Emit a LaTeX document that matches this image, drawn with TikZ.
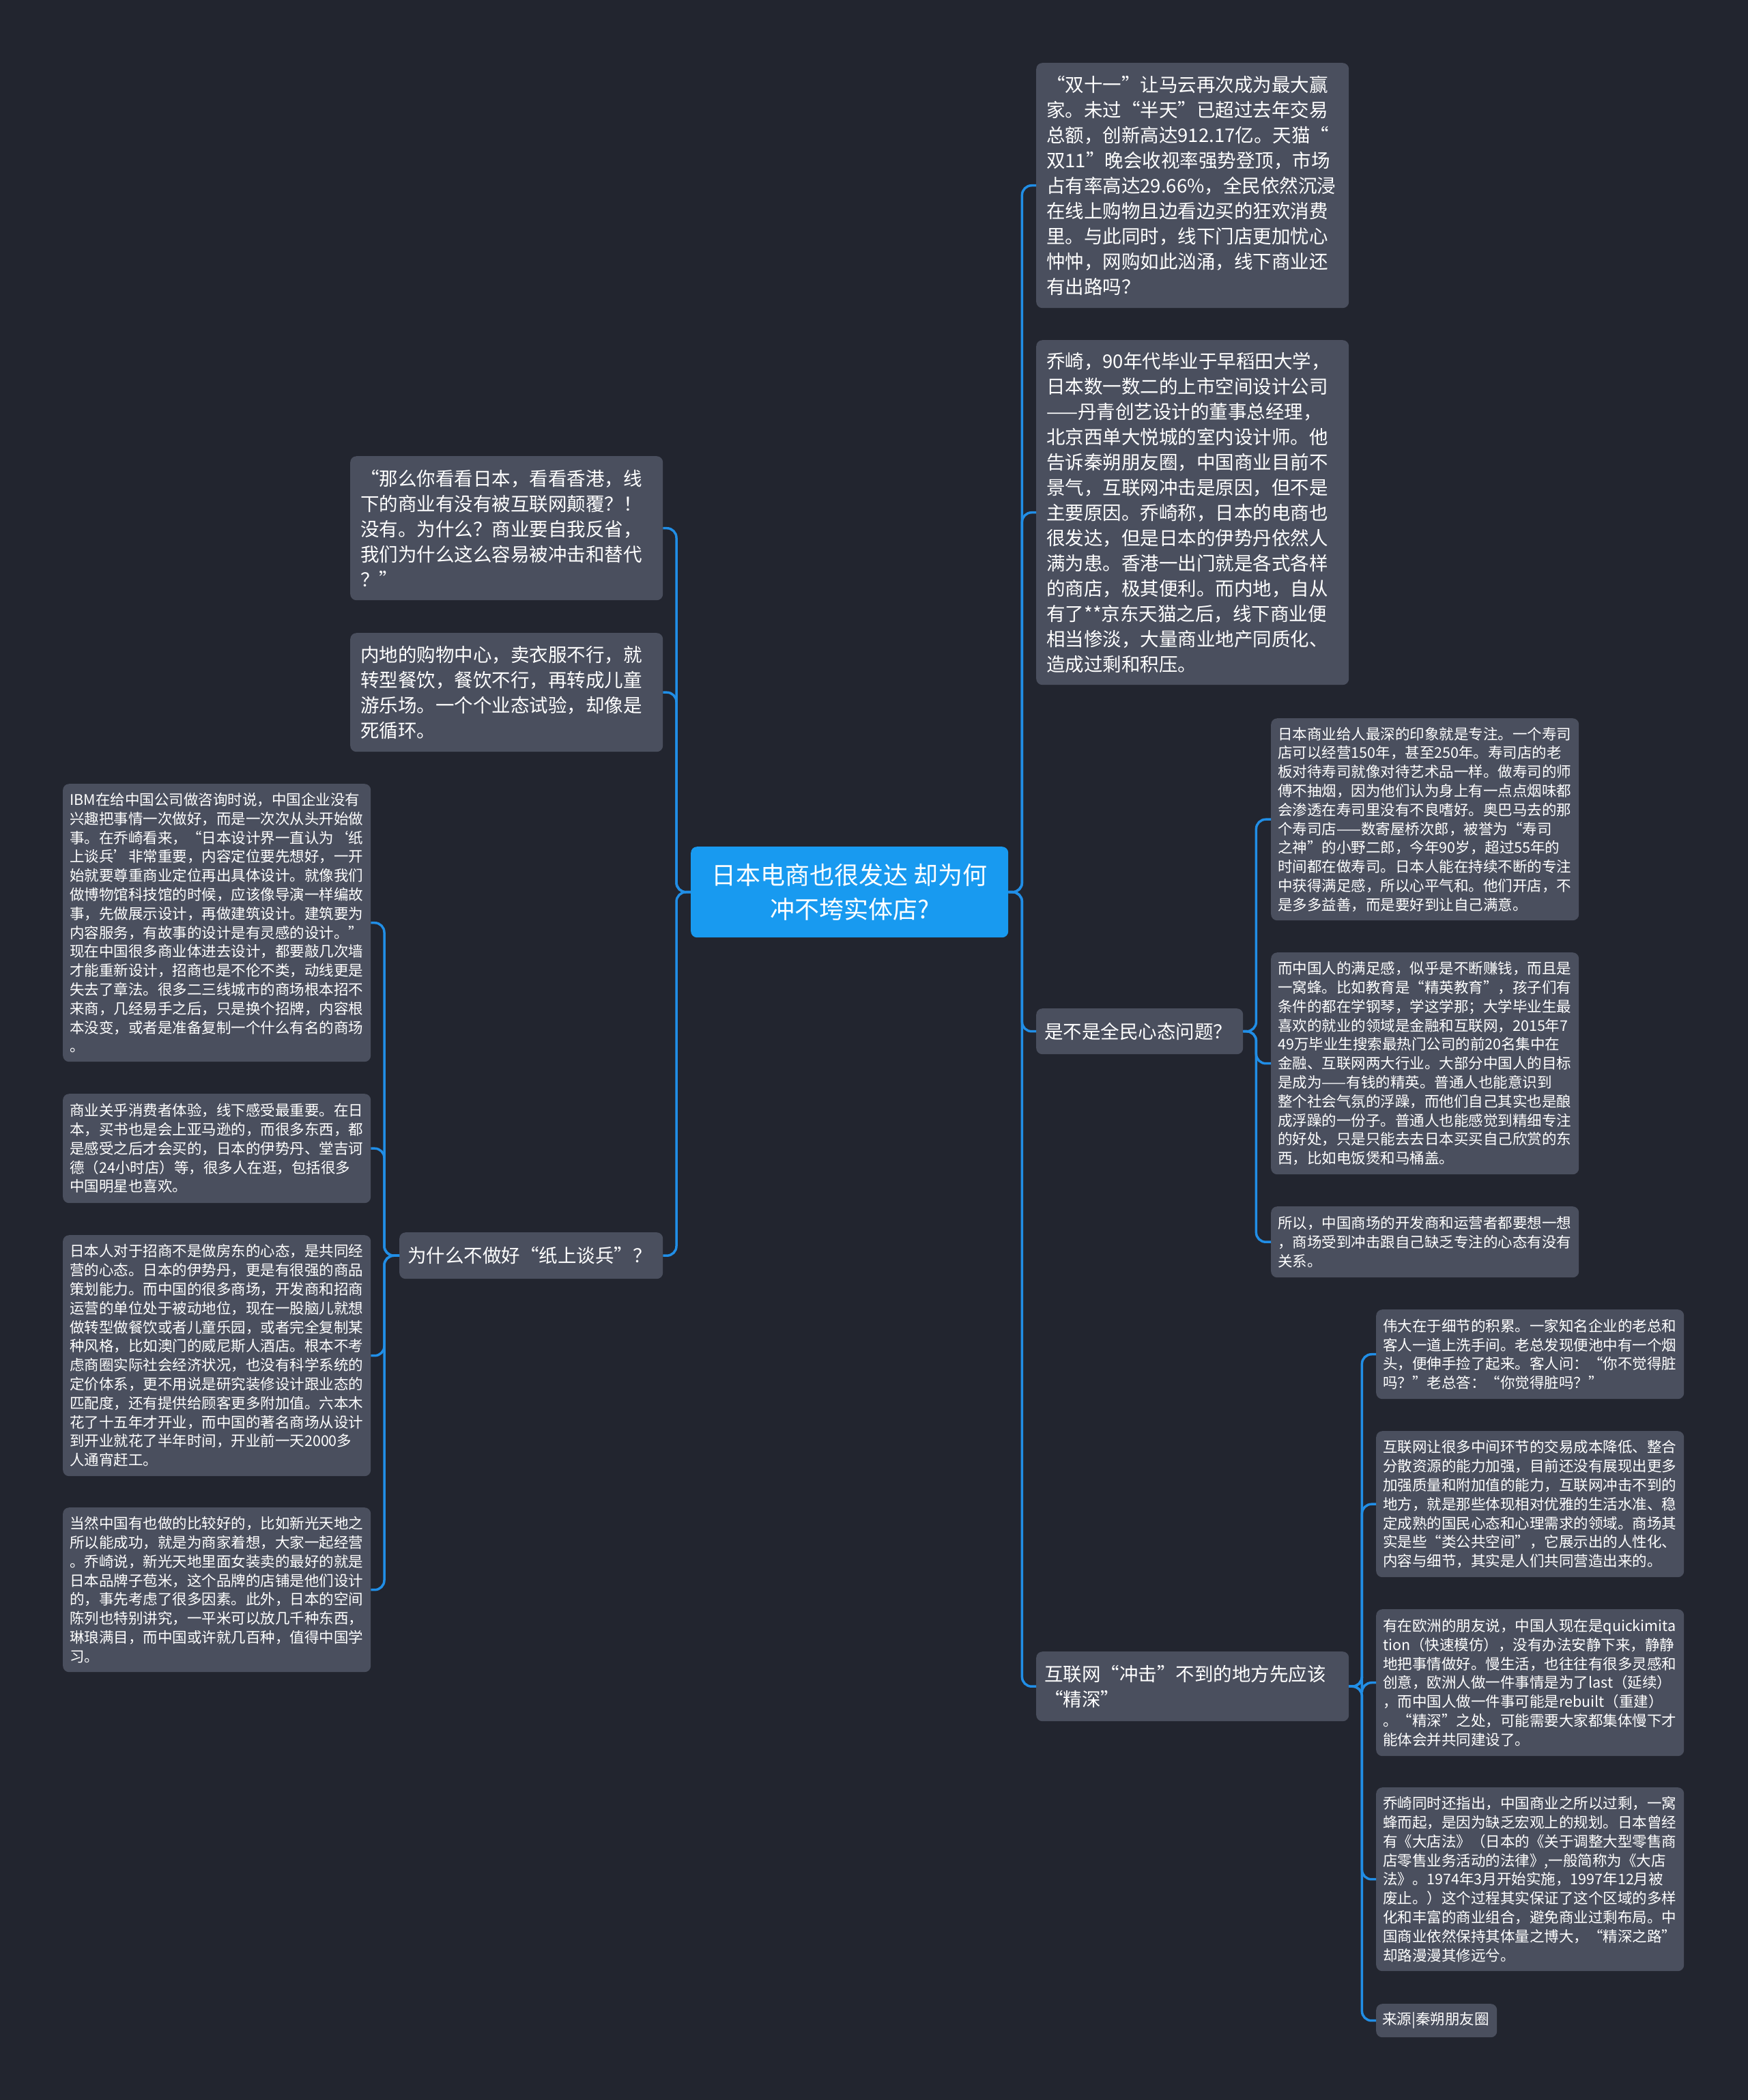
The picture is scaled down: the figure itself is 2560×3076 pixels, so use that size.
\documentclass[tikz,border=0pt]{standalone}
\usepackage{fontspec}
\setmainfont{Noto Sans CJK SC}
\definecolor{bgdark}{RGB}{34,37,47}
\definecolor{cardgray}{RGB}{74,79,94}
\definecolor{hubblue}{RGB}{24,154,240}
\definecolor{linkblue}{RGB}{33,142,230}
\setlength{\parindent}{0pt}

\begin{document}
\begin{tikzpicture}[x=1pt,y=-1pt,
    card/.style={fill=cardgray,rounded corners=9pt,anchor=north west,
                 inner xsep=15pt,inner ysep=0pt,align=left,text=white,
                 font=\fontsize{27.5}{37}\selectfont},
    topic/.style={card,inner xsep=12pt},
    note/.style={card,inner xsep=10pt,font=\fontsize{21.5}{27.8}\selectfont},
    hub/.style={fill=hubblue,rounded corners=9pt,anchor=north west,
                minimum width=465pt,minimum height=133pt,align=center,
                text=white,font=\fontsize{36}{50}\selectfont},
    link/.style={draw=linkblue,line width=3.5pt,rounded corners=14pt}]
  \useasboundingbox (0,0) rectangle (2560,3076);
  \fill[bgdark] (-20,-20) rectangle (2580,3096);

  % centre
  \node[hub] (root) at (1012,1240) {日本电商也很发达 却为何\\冲不垮实体店?};

  % right side
  \node[card,text width=428pt,minimum height=359pt] (r1) at (1518,92)
    {“双十一”让马云再次成为最大赢\\家。未过“半天”已超过去年交易\\总额，创新高达912.17亿。天猫“\\双11”晚会收视率强势登顶，市场\\占有率高达29.66\%，全民依然沉浸\\在线上购物且边看边买的狂欢消费\\里。与此同时，线下门店更加忧心\\忡忡，网购如此汹涌，线下商业还\\有出路吗？};
  \node[card,text width=428pt,minimum height=505pt] (r2) at (1518,498)
    {乔崎，90年代毕业于早稻田大学，\\日本数一数二的上市空间设计公司\\——丹青创艺设计的董事总经理，\\北京西单大悦城的室内设计师。他\\告诉秦朔朋友圈，中国商业目前不\\景气，互联网冲击是原因，但不是\\主要原因。乔崎称，日本的电商也\\很发达，但是日本的伊势丹依然人\\满为患。香港一出门就是各式各样\\的商店，极其便利。而内地，自从\\有了**京东天猫之后，线下商业便\\相当惨淡，大量商业地产同质化、\\造成过剩和积压。};
  \node[topic,text width=279pt,minimum height=67pt] (r3) at (1518,1477)
    {是不是全民心态问题？};
  \node[topic,text width=434pt,minimum height=102pt] (r4) at (1518,2419)
    {互联网“冲击”不到的地方先应该\\“精深”};

  \node[note,text width=431pt,minimum height=296pt] (c1) at (1862,1052)
    {日本商业给人最深的印象就是专注。一个寿司\\店可以经营150年，甚至250年。寿司店的老\\板对待寿司就像对待艺术品一样。做寿司的师\\傅不抽烟，因为他们认为身上有一点点烟味都\\会渗透在寿司里没有不良嗜好。奥巴马去的那\\个寿司店——数寄屋桥次郎，被誉为“寿司\\之神”的小野二郎，今年90岁，超过55年的\\时间都在做寿司。日本人能在持续不断的专注\\中获得满足感，所以心平气和。他们开店，不\\是多多益善，而是要好到让自己满意。};
  \node[note,text width=431pt,minimum height=325pt] (c2) at (1862,1395)
    {而中国人的满足感，似乎是不断赚钱，而且是\\一窝蜂。比如教育是“精英教育”，孩子们有\\条件的都在学钢琴，学这学那；大学毕业生最\\喜欢的就业的领域是金融和互联网，2015年7\\49万毕业生搜索最热门公司的前20名集中在\\金融、互联网两大行业。大部分中国人的目标\\是成为——有钱的精英。普通人也能意识到\\整个社会气氛的浮躁，而他们自己其实也是酿\\成浮躁的一份子。普通人也能感觉到精细专注\\的好处，只是只能去去日本买买自己欣赏的东\\西，比如电饭煲和马桶盖。};
  \node[note,text width=431pt,minimum height=104pt] (c3) at (1862,1767)
    {所以，中国商场的开发商和运营者都要想一想\\，商场受到冲击跟自己缺乏专注的心态有没有\\关系。};

  \node[note,text width=431pt,minimum height=131pt] (d1) at (2016,1918)
    {伟大在于细节的积累。一家知名企业的老总和\\客人一道上洗手间。老总发现便池中有一个烟\\头，便伸手捡了起来。客人问：“你不觉得脏\\吗？”老总答：“你觉得脏吗？”};
  \node[note,text width=431pt,minimum height=214pt] (d2) at (2016,2096)
    {互联网让很多中间环节的交易成本降低、整合\\分散资源的能力加强，目前还没有展现出更多\\加强质量和附加值的能力，互联网冲击不到的\\地方，就是那些体现相对优雅的生活水准、稳\\定成熟的国民心态和心理需求的领域。商场其\\实是些“类公共空间”，它展示出的人性化、\\内容与细节，其实是人们共同营造出来的。};
  \node[note,text width=431pt,minimum height=215pt] (d3) at (2016,2357)
    {有在欧洲的朋友说，中国人现在是quickimita\\tion（快速模仿），没有办法安静下来，静静\\地把事情做好。慢生活，也往往有很多灵感和\\创意，欧洲人做一件事情是为了last（延续）\\，而中国人做一件事可能是rebuilt（重建）\\。“精深”之处，可能需要大家都集体慢下才\\能体会并共同建设了。};
  \node[note,text width=431pt,minimum height=269pt] (d4) at (2016,2618)
    {乔崎同时还指出，中国商业之所以过剩，一窝\\蜂而起，是因为缺乏宏观上的规划。日本曾经\\有《大店法》（日本的《关于调整大型零售商\\店零售业务活动的法律》,一般简称为《大店\\法》。1974年3月开始实施，1997年12月被\\废止。）这个过程其实保证了这个区域的多样\\化和丰富的商业组合，避免商业过剩布局。中\\国商业依然保持其体量之博大，“精深之路”\\却路漫漫其修远兮。};
  \node[note,inner xsep=9pt,text width=159pt,minimum height=49pt] (d5) at (2016,2935)
    {来源|秦朔朋友圈};

  % left side
  \node[card,text width=428pt,minimum height=211pt] (l1) at (513,668)
    {“那么你看看日本，看看香港，线\\下的商业有没有被互联网颠覆？！\\没有。为什么？商业要自我反省，\\我们为什么这么容易被冲击和替代\\？”};
  \node[card,text width=428pt,minimum height=174pt] (l2) at (513,927)
    {内地的购物中心，卖衣服不行，就\\转型餐饮，餐饮不行，再转成儿童\\游乐场。一个个业态试验，却像是\\死循环。};
  \node[topic,text width=362pt,minimum height=68pt] (l3) at (585,1805)
    {为什么不做好“纸上谈兵”？};

  \node[note,text width=431pt,minimum height=407pt] (e1) at (92,1148)
    {IBM在给中国公司做咨询时说，中国企业没有\\兴趣把事情一次做好，而是一次次从头开始做\\事。在乔崎看来，“日本设计界一直认为‘纸\\上谈兵’非常重要，内容定位要先想好，一开\\始就要尊重商业定位再出具体设计。就像我们\\做博物馆科技馆的时候，应该像导演一样编故\\事，先做展示设计，再做建筑设计。建筑要为\\内容服务，有故事的设计是有灵感的设计。”\\现在中国很多商业体进去设计，都要敲几次墙\\才能重新设计，招商也是不伦不类，动线更是\\失去了章法。很多二三线城市的商场根本招不\\来商，几经易手之后，只是换个招牌，内容根\\本没变，或者是准备复制一个什么有名的商场\\。};
  \node[note,text width=431pt,minimum height=160pt] (e2) at (92,1602)
    {商业关乎消费者体验，线下感受最重要。在日\\本，买书也是会上亚马逊的，而很多东西，都\\是感受之后才会买的，日本的伊势丹、堂吉诃\\德（24小时店）等，很多人在逛，包括很多\\中国明星也喜欢。};
  \node[note,text width=431pt,minimum height=353pt] (e3) at (92,1809)
    {日本人对于招商不是做房东的心态，是共同经\\营的心态。日本的伊势丹，更是有很强的商品\\策划能力。而中国的很多商场，开发商和招商\\运营的单位处于被动地位，现在一股脑儿就想\\做转型做餐饮或者儿童乐园，或者完全复制某\\种风格，比如澳门的威尼斯人酒店。根本不考\\虑商圈实际社会经济状况，也没有科学系统的\\定价体系，更不用说是研究装修设计跟业态的\\匹配度，还有提供给顾客更多附加值。六本木\\花了十五年才开业，而中国的著名商场从设计\\到开业就花了半年时间，开业前一天2000多\\人通宵赶工。};
  \node[note,text width=431pt,minimum height=241pt] (e4) at (92,2208)
    {当然中国有也做的比较好的，比如新光天地之\\所以能成功，就是为商家着想，大家一起经营\\。乔崎说，新光天地里面女装卖的最好的就是\\日本品牌子苞米，这个品牌的店铺是他们设计\\的，事先考虑了很多因素。此外，日本的空间\\陈列也特别讲究，一平米可以放几千种东西，\\琳琅满目，而中国或许就几百种，值得中国学\\习。};

  % connectors
  \foreach \k in {r1,r2,r3,r4}
    \draw[link] (root.east) -- ++(20,0) |- (\k.west);
  \foreach \k in {l1,l2,l3}
    \draw[link] (root.west) -- ++(-21,0) |- (\k.east);
  \foreach \k in {c1,c2,c3}
    \draw[link] (r3.east) -- ++(19,0) |- (\k.west);
  \foreach \k in {d1,d2,d3,d4,d5}
    \draw[link] (r4.east) -- ++(19,0) |- (\k.west);
  \foreach \k in {e1,e2,e3,e4}
    \draw[link] (l3.west) -- ++(-22,0) |- (\k.east);
\end{tikzpicture}
\end{document}
